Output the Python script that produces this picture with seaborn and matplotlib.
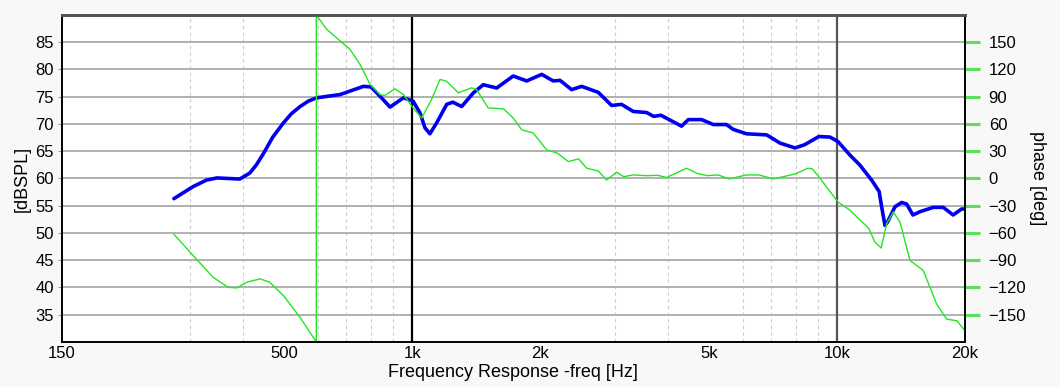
import numpy as np
import pandas as pd
import seaborn as sns
import matplotlib
import matplotlib.pyplot as plt

matplotlib.use('Agg')

# SPL curve (blue)
spl_freq = [275, 305, 328, 347, 393, 415, 430, 447, 470, 498, 520, 545, 570, 596, 677, 768,
            800, 840, 887, 954, 1005, 1044, 1072, 1101, 1142, 1206, 1247, 1308, 1393, 1470,
            1581, 1729, 1861, 2018, 2148, 2229, 2373, 2506, 2742, 2947, 3110, 3313, 3563,
            3700, 3850, 4305, 4465, 4800, 5112, 5490, 5700, 6120, 6826, 7337, 7960, 8390,
            9060, 9620, 10040, 10720, 11300, 12060, 12560, 12730, 12960, 13140, 13680,
            14190, 14580, 15080, 15660, 16840, 17780, 18750, 19630, 20000]
spl_db = [56.3, 58.5, 59.7, 60.1, 59.9, 61.0, 62.5, 64.6, 67.6, 70.2, 71.9, 73.2, 74.2, 74.8,
          75.4, 76.9, 76.8, 75.1, 73.1, 74.8, 74.2, 72.0, 69.3, 68.2, 70.2, 73.6, 74.0, 73.2,
          75.7, 77.2, 76.6, 78.8, 77.9, 79.1, 77.9, 78.0, 76.3, 76.9, 75.8, 73.4, 73.6, 72.3,
          72.1, 71.4, 71.6, 69.6, 70.8, 70.8, 69.9, 69.9, 69.0, 68.2, 68.0, 66.5, 65.6, 66.2,
          67.7, 67.6, 66.8, 64.3, 62.5, 59.7, 57.6, 54.8, 51.4, 52.0, 54.8, 55.6, 55.3, 53.3,
          53.9, 54.7, 54.7, 53.3, 54.4, 54.4]

# phase curve (green), wraps from -180 to +180 near 600 Hz
phase_freq = [275, 305, 340, 369, 387, 408, 439, 462, 498, 545, 595, 595, 629, 677, 714, 754,
              796, 840, 862, 911, 954, 1005, 1053, 1111, 1163, 1206, 1284, 1380, 1417, 1510,
              1642, 1729, 1810, 1927, 2073, 2197, 2331, 2465, 2574, 2742, 2868, 3027, 3147,
              3313, 3563, 3780, 3970, 4425, 4670, 4950, 5250, 5570, 6120, 6550, 7080, 7960,
              8540, 8750, 9180, 10040, 10720, 11880, 12270, 12700, 13080, 13560, 14060, 14840,
              15950, 17150, 18100, 19150, 20000]
phase_deg = [-61.4, -84.7, -108.7, -119.8, -120.5, -114.2, -110.5, -114.2, -129, -153, -180,
             180, 164.4, 151.4, 142.3, 125.6, 103.5, 92.4, 91.3, 98.7, 92.4, 77.7, 66.6, 86.9,
             109, 107, 94.3, 99.8, 98, 77.7, 76.6, 66.6, 53.7, 50, 31.5, 27.9, 18.6, 21.6, 11.3,
             8.3, -1.7, 6.9, 2.0, 3.9, 3.1, 3.5, 1.1, 11.3, 5.8, 3.1, 3.9, -0.5, 3.9, 3.9, -0.5,
             5.0, 11.3, 10.5, -1.7, -25.7, -34.9, -55.1, -70, -76.6, -49.6, -36.8, -47.8, -90.2,
             -101.3, -138.2, -154.8, -156.7, -167.7]

freq_ticks = [150, 500, 1000, 2000, 5000, 10000, 20000]
freq_labels = ['150', '500', '1k', '2k', '5k', '10k', '20k']
freq_dashed = [300, 400, 500, 600, 700, 800, 900, 2000, 3000, 4000, 5000, 6000, 7000, 8000, 9000]
spl_ticks = [35, 40, 45, 50, 55, 60, 65, 70, 75, 80, 85]
phase_ticks = [-150, -120, -90, -60, -30, 0, 30, 60, 90, 120, 150]

sns.set_style('white')
plt.rcParams['font.family'] = ['Liberation Sans', 'DejaVu Sans']
plt.rcParams['font.size'] = 12
plt.rcParams['text.color'] = 'black'
plt.rcParams['axes.labelcolor'] = 'black'
plt.rcParams['xtick.labelcolor'] = 'black'
plt.rcParams['ytick.labelcolor'] = 'black'

df_spl = pd.DataFrame({'freq': spl_freq, 'spl': spl_db})
df_ph = pd.DataFrame({'freq': phase_freq, 'phase': phase_deg})

fig = plt.figure(figsize=(10.6, 3.87), dpi=100, facecolor='#f8f8f8')
ax = fig.add_axes([0.0585, 0.1163, 0.8519, 0.845])
ax.set_facecolor('white')
ax.set_xscale('log')
ax2 = ax.twinx()

sns.lineplot(data=df_spl, x='freq', y='spl', ax=ax, color='#0000ee', linewidth=2.6,
             estimator=None, sort=False)
sns.lineplot(data=df_ph, x='freq', y='phase', ax=ax2, color='#22e622', linewidth=1.0,
             estimator=None, sort=False)

ax.set_xlim(150, 20000)
ax.set_ylim(30, 90)
ax2.set_ylim(-180, 180)

# x axis: labels at major ticks, dashed grid at minor ticks
ax.set_xticks(freq_ticks)
ax.set_xticklabels(freq_labels)
ax.set_xticks(freq_dashed, minor=True)
ax.xaxis.set_minor_formatter(matplotlib.ticker.NullFormatter())
ax.tick_params(axis='x', which='both', length=0, pad=3, labelsize=12, labelcolor='black')
ax.grid(False)
ax.grid(True, axis='x', which='minor', color='#cccccc', linestyle=(0, (3, 3)), linewidth=0.8)
ax.axvline(1000, color='black', linewidth=1.6, zorder=1)
ax.axvline(10000, color='#555555', linewidth=1.6, zorder=1)

# left y axis with solid horizontal grid
ax.set_yticks(spl_ticks)
ax.grid(True, axis='y', which='major', color='#b0b0b0', linestyle='-', linewidth=1.4)
ax.tick_params(axis='y', length=3, color='#999999', pad=3, labelsize=12, labelcolor='black')

# right y axis: green tick marks
ax2.set_yticks(phase_ticks)
ax2.grid(False)
ax2.tick_params(axis='y', length=11, width=2.2, color='#5ede5e', pad=6, labelsize=12,
                labelcolor='black')

for a in (ax, ax2):
    for side in ('left', 'right', 'bottom'):
        a.spines[side].set_color('black')
        a.spines[side].set_linewidth(1.2)
    a.spines['top'].set_color('#555555')
    a.spines['top'].set_linewidth(2.0)

ax.set_xlabel('Frequency Response -freq [Hz]', fontsize=13, color='black')
ax.xaxis.set_label_coords(0.4995, -0.066)
ax.set_ylabel('[dBSPL]', fontsize=13, va='center', color='black')
ax.yaxis.set_label_coords(-0.0443, 0.5)
ax2.set_ylabel('phase [deg]', fontsize=13, rotation=270, va='center', color='black')
ax2.yaxis.set_label_coords(1.080, 0.5)

plt.savefig('out.png', dpi=100, facecolor=fig.get_facecolor())
plt.close()
